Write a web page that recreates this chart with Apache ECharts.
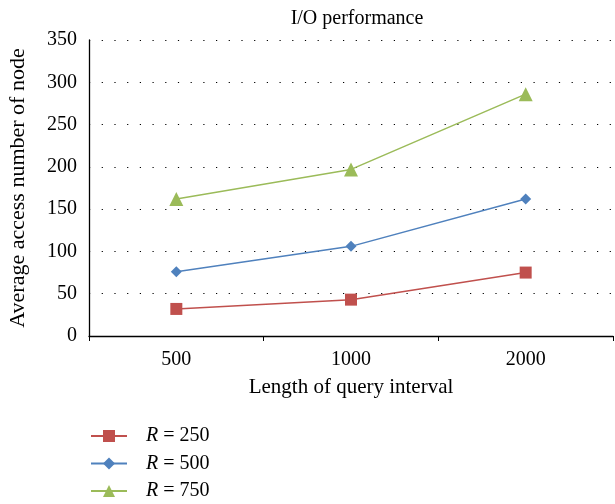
<!DOCTYPE html>
<html><head><meta charset="utf-8">
<script src="https://cdn.jsdelivr.net/npm/echarts@6/dist/echarts.min.js"></script>
<style>html,body{margin:0;padding:0;background:#fff}#c{width:615px;height:504px}</style>
</head><body><div id="c"></div>
<script>
const categories = ['500', '1000', '2000'];
const r250 = [32, 43, 75];
const r500 = [76, 106, 162];
const r750 = [162, 197, 286];
const seriesNames = ['R = 250', 'R = 500', 'R = 750'];
const yTicks = [0, 350, 50];

const font = 'Liberation Serif';
const chart = echarts.init(document.getElementById('c'));
const mk = (name, data, color, symbol, size) => ({
  name, type: 'line', data, symbol, symbolSize: size,
  lineStyle: { color, width: 1.5 }, itemStyle: { color },
  emphasis: { disabled: true }
});
chart.setOption({
  animation: false,
  title: { text: 'I/O performance', left: 352, top: 4, textAlign: 'center',
    textStyle: { fontFamily: font, fontSize: 20, fontWeight: 'normal', color: '#000' } },
  grid: { left: 89, right: 2, top: 40, bottom: 168, outerBoundsMode: 'none', containLabel: false },
  xAxis: {
    type: 'category', data: categories, boundaryGap: true,
    name: 'Length of query interval', nameLocation: 'middle', nameGap: 41,
    nameTextStyle: { fontFamily: font, fontSize: 21, color: '#000' },
    axisLine: { lineStyle: { color: '#000', width: 1.3 } },
    axisTick: { show: true, length: 5, lineStyle: { color: '#000' } },
    axisLabel: { fontFamily: font, fontSize: 20, color: '#000', margin: 14 }
  },
  yAxis: {
    type: 'value', min: yTicks[0], max: yTicks[1], interval: yTicks[2],
    name: 'Average access number of node', nameLocation: 'middle', nameGap: 60,
    nameTextStyle: { fontFamily: font, fontSize: 22, color: '#000' },
    axisLine: { show: true, lineStyle: { color: '#000', width: 1.3 } },
    axisTick: { show: false },
    axisLabel: { fontFamily: font, fontSize: 20, color: '#000', margin: 12 },
    splitLine: { show: true, lineStyle: { color: '#000', type: [1.2, 11.5], width: 1.2 } }
  },
  legend: {
    orient: 'vertical', left: 90, top: 426, height: 78, padding: 0, itemGap: 7.5,
    itemWidth: 36, itemHeight: 15,
    data: seriesNames,
    formatter: n => '{i|R} = ' + n.split('= ')[1],
    textStyle: { fontFamily: font, fontSize: 20, color: '#000', padding: [0, 0, 0, 14],
      rich: { i: { fontFamily: font, fontSize: 20, fontStyle: 'italic', color: '#000' } } }
  },
  series: [
    mk(seriesNames[0], r250, '#C0504D', 'rect', 12),
    mk(seriesNames[1], r500, '#4F81BD', 'diamond', 11),
    mk(seriesNames[2], r750, '#9BBB59', 'triangle', 14)
  ]
});
</script></body></html>
